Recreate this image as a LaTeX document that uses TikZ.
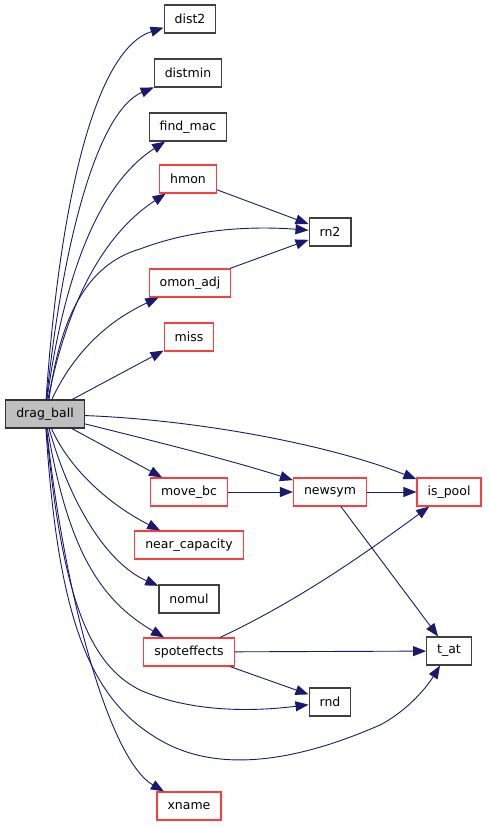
\documentclass[tikz,border=0pt]{standalone}
\usepackage{fontspec}
\newfontfamily\graphfont{DejaVu Sans}
\usepackage{tikz}
\usetikzlibrary{positioning,arrows.meta}
\definecolor{edgeblue}{RGB}{25,25,112}
\definecolor{boxred}{RGB}{255,60,60}
\definecolor{boxgray}{RGB}{64,64,64}
\definecolor{rootfill}{RGB}{191,191,191}

\begin{document}
\begin{tikzpicture}[x=1pt, y=-1pt,
  fn/.style={draw=boxgray, line width=1.2pt, fill=white,
             minimum height=28pt, inner xsep=10.5pt, inner ysep=0pt,
             font=\graphfont\fontsize{12.5}{14}\selectfont},
  undoc/.style={fn, draw=boxred},
  root/.style={fn, draw=black!80, fill=rootfill},
  call/.style={draw=edgeblue, line width=0.9pt,
               -{Triangle[length=13pt, width=10pt]}},
  ]
  \useasboundingbox (0,0) rectangle (488,827);

  % the caller
  \node[root] (drag) at (45,414) {drag\_ball};

  % first column of callees
  \node[fn]    (dist2)   at (190,19)  {dist2};
  \node[fn]    (distmin) at (188,73)  {distmin};
  \node[fn]    (findmac) at (188,127) {find\_mac};
  \node[undoc] (hmon)    at (188,179) {hmon};
  \node[undoc] (omonadj) at (190,283) {omon\_adj};
  \node[undoc] (miss)    at (189,337) {miss};
  \node[undoc] (movebc)  at (189,492) {move\_bc};
  \node[undoc] (nearcap) at (189,545) {near\_capacity};
  \node[fn]    (nomul)   at (189,599) {nomul};
  \node[undoc] (spot)    at (189,652) {spoteffects};
  \node[undoc] (xname)   at (189,806) {xname};

  % second and third column
  \node[fn]    (rn2)    at (330,232) {rn2};
  \node[undoc] (newsym) at (330,492) {newsym};
  \node[fn]    (rnd)    at (330,702) {rnd};
  \node[undoc] (ispool) at (449,492) {is\_pool};
  \node[fn]    (tat)    at (449,651) {t\_at};

  % calls made by drag_ball
  \draw[call] (drag) .. controls (60,200) and (95,50) .. (dist2);
  \draw[call] (drag) .. controls (64,230) and (100,110) .. (distmin);
  \draw[call] (drag) .. controls (66,260) and (105,180) .. (findmac);
  \draw[call] (drag) .. controls (70,290) and (110,230) .. (hmon);
  \draw[call] (drag.north) ++(4,0) .. controls (60,320) and (85,265) .. (140,249)
    .. controls (195,228) and (255,226) .. (rn2);
  \draw[call] (drag) .. controls (75,350) and (110,320) .. (omonadj);
  \draw[call] (drag) -- (miss);
  \draw[call] (drag) .. controls (200,420) and (330,445) .. (ispool);
  \draw[call] (drag) .. controls (150,440) and (230,460) .. (newsym);
  \draw[call] (drag) -- (movebc);
  \draw[call] (drag) .. controls (70,470) and (110,505) .. (nearcap);
  \draw[call] (drag) .. controls (72,510) and (110,565) .. (nomul);
  \draw[call] (drag) .. controls (68,550) and (100,600) .. (spot);
  \draw[call] (drag) .. controls (62,600) and (90,665) .. (140,690)
    .. controls (190,712) and (250,712) .. (rnd);
  \draw[call] (drag) .. controls (58,620) and (90,700) .. (160,740)
    .. controls (220,775) and (300,760) .. (380,725)
    .. controls (405,712) and (425,690) .. (tat);
  \draw[call] (drag) .. controls (65,600) and (110,760) .. (xname);

  % calls further down
  \draw[call] (hmon) -- (rn2);
  \draw[call] (omonadj) -- (rn2);
  \draw[call] (movebc) -- (newsym);
  \draw[call] (newsym) -- (ispool);
  \draw[call] (newsym) -- (tat);
  \draw[call] (spot) .. controls (300,600) and (370,550) .. (ispool);
  \draw[call] (spot) -- (tat);
  \draw[call] (spot) -- (rnd);
\end{tikzpicture}
\end{document}
